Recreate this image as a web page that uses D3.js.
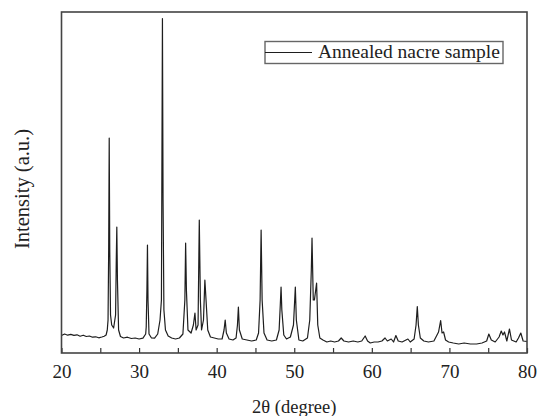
<!DOCTYPE html>
<html>
<head>
<meta charset="utf-8">
<script src="https://cdn.jsdelivr.net/npm/d3@7"></script>
<style>
  html, body { margin: 0; padding: 0; background: #fff; }
  svg { display: block; }
  text { font-family: "Liberation Serif", "Times New Roman", serif; fill: #222; }
</style>
</head>
<body>
<svg id="chart" width="541" height="416"></svg>
<script>
// 2θ (degree) positions
const twoTheta = [
  20.0,20.4,20.8,21.2,21.6,22.0,22.4,22.8,23.2,23.6,24.0,24.4,24.8,25.2,25.5,25.75,
  25.9,26.0,26.08,26.15,26.22,26.32,26.47,26.72,26.97,27.06,27.13,27.21,27.36,27.6,
  28.0,28.5,29.0,29.5,30.0,30.5,30.85,
  30.92,31.01,31.08,31.15,31.28,31.6,32.0,32.4,32.7,32.88,33.01,33.09,33.2,33.4,33.75,
  34.2,34.7,35.2,35.65,35.9,36.0,36.1,36.3,36.7,37.0,37.2,37.35,37.6,37.76,37.9,38.05,
  38.3,38.48,38.63,38.85,39.2,39.7,40.2,40.7,40.95,41.1,41.25,41.6,42.1,42.5,42.68,42.8,
  42.93,43.3,43.9,44.5,45.1,45.4,45.6,45.73,45.86,46.1,46.5,47.1,47.7,48.05,48.2,48.3,
  48.4,48.65,49.0,49.5,49.9,50.14,50.27,50.6,51.1,51.7,52.0,52.2,52.29,52.45,52.6,52.88,
  53.03,53.3,53.7,54.2,54.7,55.2,55.7,56.05,56.4,57.0,57.6,58.2,58.7,59.14,59.45,59.8,
  60.3,60.8,61.3,61.7,62.0,62.5,62.8,63.1,63.4,63.9,64.65,64.95,65.45,65.7,65.86,66.0,
  66.25,66.7,67.3,68.0,68.6,68.87,69.05,69.25,69.5,69.9,70.5,71.2,71.9,72.7,73.5,74.2,
  74.8,75.08,75.4,75.9,76.4,76.68,76.9,77.1,77.4,77.74,78.0,78.6,78.9,79.2,79.5,80.0
];
// Intensity (a.u.)
const intensity = [
  175,190,178,186,176,182,168,178,165,170,158,162,152,160,168,180,
  230,330,1030,2150,1030,380,280,250,380,930,1260,730,230,165,
  150,158,145,150,140,148,190,
  260,630,1080,530,190,150,148,190,330,530,3345,1530,430,230,170,
  150,140,150,190,530,1100,630,230,200,280,400,230,280,1330,530,230,
  330,730,530,230,160,150,140,140,230,330,200,140,130,150,280,460,
  230,140,130,120,130,200,530,1230,530,200,130,120,130,230,480,660,
  430,180,140,160,280,660,330,130,120,150,330,830,1150,530,530,700,
  280,150,130,110,120,110,120,150,120,110,120,110,120,170,120,100,
  110,110,120,150,120,140,110,175,120,110,140,110,140,280,465,280,
  150,120,110,120,210,325,200,210,130,110,100,90,100,90,90,100,
  120,190,130,110,160,220,180,210,120,240,130,110,150,200,120,115
];
const xTicks = [20,25,30,35,40,45,50,55,60,65,70,75,80];
const xTickLabels = ["20","","30","","40","","50","","60","","70","","80"];
const seriesName = "Annealed nacre sample";
const xTitle = "2θ (degree)";
const yTitle = "Intensity (a.u.)";

const data = twoTheta.map((t, i) => ({ t, v: intensity[i] }));

const svg = d3.select("#chart");
const pL = 61.5, pR = 527, pT = 12, pB = 353;

const x = d3.scaleLinear().domain([20, 80]).range([pL, pR]);
const y = d3.scaleLinear().domain([0, 3410]).range([pB, pT]);

// spectrum line
svg.append("path")
  .datum(data)
  .attr("fill", "none")
  .attr("stroke", "#1e1e1e")
  .attr("stroke-width", 1.2)
  .attr("stroke-linejoin", "round")
  .attr("d", d3.line().x(d => x(d.t)).y(d => y(d.v)));

// x axis (ticks pointing inward)
const xAxis = d3.axisBottom(x)
  .tickValues(xTicks)
  .tickSizeInner(-5)
  .tickSizeOuter(0)
  .tickPadding(12)
  .tickFormat((d, i) => xTickLabels[i]);
const gx = svg.append("g").attr("transform", `translate(0,${pB})`).call(xAxis);
gx.select(".domain").remove();
gx.selectAll(".tick line").attr("stroke", "#333").attr("stroke-width", 1.2);
gx.selectAll(".tick text")
  .attr("font-family", '"Liberation Serif", "Times New Roman", serif')
  .attr("font-size", 19)
  .attr("fill", "#222");

// frame
svg.append("rect")
  .attr("x", pL).attr("y", pT)
  .attr("width", pR - pL).attr("height", pB - pT)
  .attr("fill", "none")
  .attr("stroke", "#444")
  .attr("stroke-width", 1.6);

// axis titles
svg.append("text")
  .attr("x", (pL + pR) / 2).attr("y", 413)
  .attr("text-anchor", "middle")
  .attr("font-size", 18.5)
  .text(xTitle);

svg.append("text")
  .attr("transform", "translate(28.5,189) rotate(-90)")
  .attr("text-anchor", "middle")
  .attr("font-size", 20.5)
  .text(yTitle);

// legend
const lg = svg.append("g");
lg.append("rect")
  .attr("x", 265).attr("y", 41.5)
  .attr("width", 238).attr("height", 22)
  .attr("fill", "#fff")
  .attr("stroke", "#666")
  .attr("stroke-width", 1.4);
lg.append("line")
  .attr("x1", 265).attr("x2", 312)
  .attr("y1", 52.5).attr("y2", 52.5)
  .attr("stroke", "#1e1e1e").attr("stroke-width", 1.2);
lg.append("text")
  .attr("x", 318).attr("y", 57.5)
  .attr("font-size", 19.5)
  .text(seriesName);
</script>
</body>
</html>
